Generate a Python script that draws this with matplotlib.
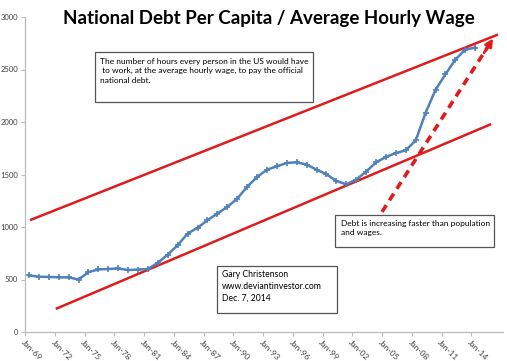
import numpy as np
import matplotlib.pyplot as plt
from matplotlib.patches import Rectangle

# Hours of work per person to pay off the national debt, 1969-2014 (annual)
years = np.arange(1969, 2015)
hours = [540, 526, 525, 520, 520, 500, 570, 596, 600, 605,
         590, 595, 600, 659, 738, 827, 938, 992, 1065, 1128,
         1191, 1270, 1383, 1476, 1546, 1578, 1610, 1616, 1594, 1546,
         1502, 1438, 1407, 1452, 1527, 1616, 1667, 1705, 1730, 1825,
         2089, 2307, 2455, 2595, 2690, 2709]

# Trend channel lines (start, end) as (year, value)
upper_x, upper_y = [1969.1, 2016.3], [1065, 2833]
lower_x, lower_y = [1971.7, 2015.6], [220, 1980]
steep_x, steep_y = [2004.6, 2015.8], [1144, 2795]

tick_years = np.arange(1969, 2015, 3)
tick_labels = [f"Jan-{y % 100:02d}" for y in tick_years]

plt.rcParams['font.family'] = ['Lato', 'DejaVu Sans']

W, H = 507, 361
fig = plt.figure(figsize=(W / 100, H / 100), dpi=100)
ax = fig.add_axes([25 / W, 29 / H, 478 / W, 315 / H])

red = '#e01b1b'
ax.plot(upper_x, upper_y, color=red, lw=1.8, solid_capstyle='butt')
ax.plot(lower_x, lower_y, color=red, lw=1.8, solid_capstyle='butt')
ax.plot(steep_x, steep_y, color=red, lw=2.6, ls=(0, (2.2, 1.6)))
ax.annotate('', xy=(steep_x[1], steep_y[1]),
            xytext=(steep_x[1] - 0.9, steep_y[1] - 135),
            arrowprops=dict(arrowstyle='-|>', color=red, lw=2,
                            mutation_scale=11, shrinkA=0, shrinkB=0))

ax.plot(years, hours, color='#4f81bd', lw=1.8, marker='+', ms=4, mew=1.2)

ax.set_xlim(1968.6, 2016.8)
ax.set_ylim(0, 3000)
ax.set_yticks(np.arange(0, 3001, 500))
ax.set_xticks(tick_years - 0.4)
ax.set_xticklabels(tick_labels, rotation=-45, ha='left', va='top',
                   rotation_mode='anchor')
ax.tick_params(labelsize=5.5, colors='#404040', length=3, width=0.8,
               pad=2)
ax.tick_params(axis='x', color='#bbbbbb', labelsize=6)
ax.tick_params(axis='y', color='#bbbbbb')
for s in ['top', 'right']:
    ax.spines[s].set_visible(False)
for s in ['left', 'bottom']:
    ax.spines[s].set_color('#bbbbbb')
    ax.spines[s].set_linewidth(0.9)

fig.text(0.53, 0.972, 'National Debt Per Capita / Average Hourly Wage',
         ha='center', va='top', fontsize=13.5, fontweight='bold')


def note(x0, y0, x1, y1, text, size, tx, ty):
    # box and text placed in pixel coordinates from the top-left corner
    fig.patches.append(Rectangle((x0 / W, 1 - y1 / H), (x1 - x0) / W,
                                 (y1 - y0) / H, transform=fig.transFigure,
                                 fc='white', ec='#555555', lw=0.9, zorder=5))
    fig.text(tx / W, 1 - ty / H, text, ha='left', va='top', fontsize=size,
             linespacing=1.38, zorder=6)


note(95, 52, 313, 102,
     'The number of hours every person in the US would have\n'
     ' to work, at the average hourly wage, to pay the official\n'
     'national debt.', 6.0, 100, 58)
note(335, 215, 494, 247,
     'Debt is increasing faster than population\nand wages.',
     6.0, 341, 220)
note(217, 266, 337, 313,
     'Gary Christenson\nwww.deviantinvestor.com\nDec. 7, 2014',
     6.2, 222, 270)

fig.savefig('out.png', dpi=100)
